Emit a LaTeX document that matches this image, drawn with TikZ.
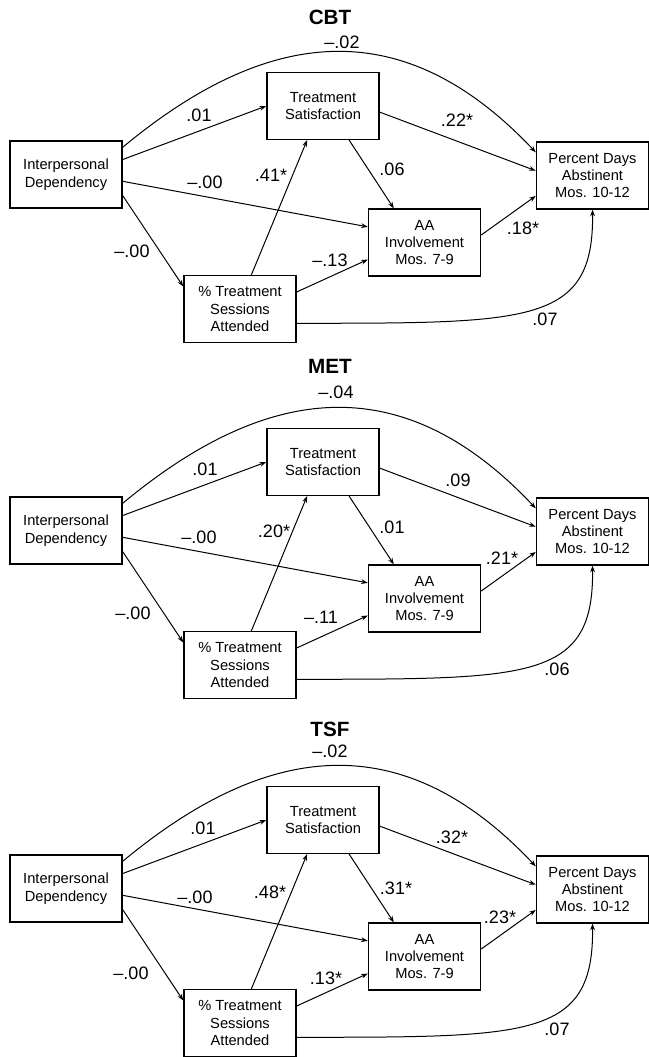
\documentclass[tikz,border=0pt]{standalone}
\usepackage{fontspec}
\setmainfont{Liberation Sans}
\usetikzlibrary{arrows.meta,calc}
\tikzset{
 box/.style={draw, line width=1.1pt, minimum width=84pt, minimum height=50pt, align=center, inner sep=1pt, font=\fontsize{11}{13.1}\selectfont},
 arr/.style={-{Stealth[length=5pt,width=3.6pt]}, line width=0.75pt},
 lab/.style={font=\fontsize{13.5}{15}\selectfont, inner sep=0pt},
 ttl/.style={font=\fontsize{15.5}{18}\selectfont\bfseries, inner sep=0pt},
}
\newcommand{\drawpanel}[1]{%
\node[box] (#1id) at (66,174.5) {Interpersonal\\Dependency};
\node[box] (#1ts) at (323,106) {Treatment\\Satisfaction};
\node[box] (#1pda) at (592.5,175.5) {Percent Days\\Abstinent\\Mos. 10-12};
\node[box] (#1aa) at (424.5,242.5) {AA\\Involvement\\Mos. 7-9};
\node[box] (#1pct) at (240,309) {\% Treatment\\Sessions\\Attended};
\draw[arr] ($(#1id.north east)!0.10!(#1id.south east)$) .. controls (277,19) and (410,19) .. ($(#1pda.north west)!0.16!(#1pda.south west)$);
\draw[arr] ($(#1id.north east)!0.28!(#1id.south east)$) -- (#1ts.west);
\draw[arr] ($(#1id.north east)!0.60!(#1id.south east)$) -- ($(#1aa.north west)!0.27!(#1aa.south west)$);
\draw[arr] ($(#1id.north east)!0.81!(#1id.south east)$) -- ($(#1pct.north west)!0.17!(#1pct.south west)$);
\draw[arr] ($(#1ts.north east)!0.59!(#1ts.south east)$) -- ($(#1pda.north west)!0.43!(#1pda.south west)$);
\draw[arr] ($(#1ts.south west)!0.73!(#1ts.south east)$) -- ($(#1aa.north west)!0.23!(#1aa.north east)$);
\draw[arr] ($(#1pct.north west)!0.60!(#1pct.north east)$) -- ($(#1ts.south west)!0.36!(#1ts.south east)$);
\draw[arr] ($(#1pct.north east)!0.25!(#1pct.south east)$) -- ($(#1aa.north west)!0.75!(#1aa.south west)$);
\draw[arr] ($(#1aa.north east)!0.39!(#1aa.south east)$) -- ($(#1pda.north west)!0.80!(#1pda.south west)$);
\draw[arr] ($(#1pct.north east)!0.71!(#1pct.south east)$) .. controls (530,323) and (594,325) .. (#1pda.south);
}
\begin{document}
\begin{tikzpicture}[x=0.75pt,y=-0.75pt]
\useasboundingbox (0,0) rectangle (649,1057);
% CBT
\begin{scope}[shift={(0,0)}]
\drawpanel{cbt}
\node[ttl] (cbtt) at (330,17) {CBT};
\node[lab] (cbt1) at (342,42) {–.02};
\node[lab] (cbt2) at (199,115) {.01};
\node[lab] (cbt3) at (457,120) {.22*};
\node[lab] (cbt4) at (392,169) {.06};
\node[lab] (cbt5) at (271,175) {.41*};
\node[lab] (cbt6) at (205,182) {–.00};
\node[lab] (cbt7) at (132,251) {–.00};
\node[lab] (cbt8) at (330,260) {–.13};
\node[lab] (cbt9) at (523,228) {.18*};
\node[lab] (cbt10) at (545,319) {.07};
\end{scope}
% MET
\begin{scope}[shift={(0,356)}]
\drawpanel{met}
\node[ttl] (mett) at (330,10) {MET};
\node[lab] (met1) at (336,36) {–.04};
\node[lab] (met2) at (205,113) {.01};
\node[lab] (met3) at (458,124) {.09};
\node[lab] (met4) at (392,171) {.01};
\node[lab] (met5) at (274,175) {.20*};
\node[lab] (met6) at (199,181) {–.00};
\node[lab] (met7) at (133,257) {–.00};
\node[lab] (met8) at (321,261) {–.11};
\node[lab] (met9) at (502,202) {.21*};
\node[lab] (met10) at (557,313) {.06};
\end{scope}
% TSF
\begin{scope}[shift={(0,714)}]
\drawpanel{tsf}
\node[ttl] (tsft) at (330,15) {TSF};
\node[lab] (tsf1) at (330,37) {–.02};
\node[lab] (tsf2) at (203,114) {.01};
\node[lab] (tsf3) at (452,123) {.32*};
\node[lab] (tsf4) at (396,174) {.31*};
\node[lab] (tsf5) at (270,178) {.48*};
\node[lab] (tsf6) at (195,183) {–.00};
\node[lab] (tsf7) at (131,259) {–.00};
\node[lab] (tsf8) at (326,264) {.13*};
\node[lab] (tsf9) at (500,203) {.23*};
\node[lab] (tsf10) at (557,315) {.07};
\end{scope}
\end{tikzpicture}
\end{document}
